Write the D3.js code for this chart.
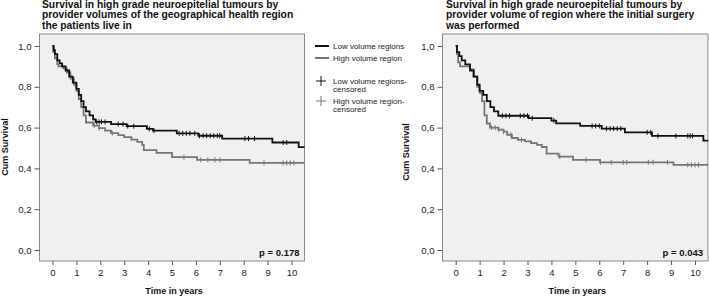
<!DOCTYPE html>
<html lang="en">
<head>
  <meta charset="UTF-8">
  <title>Survival by provider volume</title>
  <script src="https://cdn.jsdelivr.net/npm/d3@7"></script>
  <style>
    body { margin: 0; background: #fff; }
    svg { display: block; font-family: "Liberation Sans", Arial, sans-serif; }
    .title { font-size: 10.3px; font-weight: bold; fill: #111; }
    .axis text { font-size: 9.5px; fill: #222; }
    .axis path { display: none; }
    .axis line { stroke: #555; }
    .axlabel { font-size: 9px; font-weight: bold; fill: #111; }
    .pval { font-size: 9.5px; font-weight: bold; fill: #111; }
    .legend text { font-size: 8px; fill: #222; }
  </style>
</head>
<body>
<script>
  // tick labels
  const yearTicks = [0, 1, 2, 3, 4, 5, 6, 7, 8, 9, 10];
  const survTicks = [0, 0.2, 0.4, 0.6, 0.8, 1.0];

  const leftTitle = ["Survival in high grade neuroepitelial tumours by",
                     "provider volumes of the geographical health region",
                     "the patients live in"];
  const rightTitle = ["Survival in high grade neuroepitelial tumours by",
                      "provider volume of region where the initial surgery",
                      "was performed"];
  const legendItems = ["Low volume regions", "High volume region"];
  const censorItems = [["Low volume regions-", "censored"], ["High volume region-", "censored"]];

  // left panel: steps [time, survival] after each drop
  const leftLow = [[0,1.0],[0.05,0.98],[0.1,0.96],[0.2,0.93],[0.3,0.915],[0.4,0.9],[0.55,0.88],[0.7,0.85],
    [0.85,0.82],[1.0,0.79],[1.1,0.76],[1.2,0.73],[1.3,0.70],[1.4,0.68],[1.55,0.66],[1.7,0.64],[1.8,0.628],
    [2.45,0.617],[3.1,0.607],[3.95,0.594],[4.2,0.585],[5.2,0.572],[6.1,0.56],[7.1,0.546],[9.2,0.527],[10.3,0.504]];
  const leftHigh = [[0,1.0],[0.03,0.97],[0.1,0.94],[0.2,0.91],[0.25,0.9],[0.45,0.89],[0.6,0.87],[0.75,0.84],
    [0.9,0.81],[1.0,0.78],[1.1,0.74],[1.2,0.70],[1.3,0.66],[1.4,0.625],[1.7,0.61],[1.95,0.597],[2.2,0.585],
    [2.45,0.573],[2.75,0.563],[3.0,0.553],[3.3,0.541],[3.55,0.53],[3.75,0.515],[3.82,0.49],[4.35,0.476],
    [5.0,0.455],[6.05,0.442],[8.25,0.427]];
  const leftLowCensor = [1.85, 1.95, 2.05, 2.2, 2.75, 2.95, 3.15, 3.4, 4.05, 4.25, 5.3, 5.45, 5.6, 5.75, 5.95,
    6.15, 6.3, 6.45, 6.6, 6.75, 6.9, 7.0, 8.05, 8.2, 8.45, 9.65, 9.8];
  const leftHighCensor = [1.75, 1.95, 2.5, 5.5, 6.2, 6.5, 6.8, 7.0, 8.85, 9.65, 9.8, 9.95, 10.1];

  // right panel
  const rightLow = [[0,1.0],[0.05,0.97],[0.15,0.95],[0.25,0.93],[0.4,0.91],[0.6,0.88],[0.75,0.85],[0.9,0.81],
    [1.0,0.78],[1.15,0.76],[1.3,0.73],[1.45,0.70],[1.6,0.68],[1.78,0.658],[3.05,0.646],[4.0,0.634],
    [4.2,0.621],[5.2,0.608],[6.1,0.595],[7.07,0.577],[8.2,0.559],[10.35,0.536]];
  const rightHigh = [[0,1.0],[0.05,0.96],[0.1,0.92],[0.18,0.9],[0.6,0.885],[0.75,0.85],[0.9,0.8],[1.0,0.77],
    [1.1,0.73],[1.2,0.66],[1.3,0.62],[1.43,0.60],[1.78,0.59],[2.0,0.58],[2.15,0.565],[2.35,0.549],[2.6,0.54],
    [2.9,0.532],[3.15,0.524],[3.4,0.515],[3.6,0.505],[3.8,0.472],[4.3,0.458],[4.9,0.442],[6.03,0.43],[9.1,0.417]];
  const rightLowCensor = [1.95, 2.1, 2.25, 2.7, 2.85, 3.0, 3.2, 4.1, 5.7, 5.85, 6.0, 6.3, 6.45, 6.6, 6.75, 6.9,
    8.0, 8.15, 8.45, 9.2, 9.7, 9.8, 9.9];
  const rightHighCensor = [1.5, 1.65, 1.8, 2.0, 2.3, 2.75, 4.35, 5.45, 6.05, 6.5, 7.0, 7.15, 8.05, 8.25, 8.85,
    9.7, 9.85, 10.0, 10.15];

  const W = 709, H = 297;
  const svg = d3.select("body").append("svg").attr("width", W).attr("height", H);

  function drawPanel(o) {
    const g = svg.append("g");
    const x = d3.scaleLinear().domain([0, 10]).range([o.x0, o.x10]);
    const y = d3.scaleLinear().domain([0, 1]).range([250, 46]);
    const xmax = x.invert(o.boxR);

    g.append("rect")
      .attr("x", o.boxL).attr("y", 34)
      .attr("width", o.boxR - o.boxL).attr("height", 227)
      .attr("fill", "#f0f0f0").attr("stroke", "#8a8a8a");

    g.append("g").attr("class", "axis")
      .attr("transform", `translate(${o.boxL},0)`)
      .call(d3.axisLeft(y).tickValues(survTicks).tickSize(5).tickPadding(3)
        .tickFormat(d => d3.format(".1f")(d).replace(".", ",")));

    g.append("g").attr("class", "axis")
      .attr("transform", "translate(0,261)")
      .call(d3.axisBottom(x).tickValues(yearTicks).tickSize(4).tickPadding(4));

    g.selectAll(".title-line").data(o.title).enter().append("text")
      .attr("class", "title")
      .attr("x", o.titleX).attr("y", (d, i) => 8 + i * 10.4)
      .text(d => d);

    g.append("text").attr("class", "axlabel")
      .attr("x", (o.boxL + o.boxR) / 2 + 2).attr("y", 294)
      .attr("text-anchor", "middle").text("Time in years");

    g.append("text").attr("class", "axlabel")
      .attr("transform", `translate(${o.ylabX},${o.ylabY}) rotate(-90)`)
      .attr("text-anchor", "middle").text("Cum Survival");

    g.append("text").attr("class", "pval")
      .attr("x", o.boxR - 5).attr("y", 256)
      .attr("text-anchor", "end").text(o.p);

    const line = d3.line().x(d => x(d[0])).y(d => y(d[1])).curve(d3.curveStepAfter);
    const series = [
      { steps: o.high, censor: o.highCensor, color: "#767676" },
      { steps: o.low, censor: o.lowCensor, color: "#111" }
    ];
    const bis = d3.bisector(d => d[0]).right;
    series.forEach(s => {
      const pts = s.steps.concat([[xmax, s.steps[s.steps.length - 1][1]]]);
      g.append("path").datum(pts)
        .attr("fill", "none").attr("stroke", s.color).attr("stroke-width", 1.8)
        .attr("d", line);
      g.selectAll(null).data(s.censor).enter().append("line")
        .attr("x1", d => x(d)).attr("x2", d => x(d))
        .attr("y1", d => y(s.steps[bis(s.steps, d) - 1][1]) - 2.5)
        .attr("y2", d => y(s.steps[bis(s.steps, d) - 1][1]) + 2.5)
        .attr("stroke", s.color).attr("stroke-width", 1);
    });
  }

  drawPanel({ x0: 52.5, x10: 291.5, boxL: 39.5, boxR: 304.5, title: leftTitle, titleX: 42,
    ylabX: 8, ylabY: 147, p: "p = 0.178",
    low: leftLow, high: leftHigh, lowCensor: leftLowCensor, highCensor: leftHighCensor });

  drawPanel({ x0: 455.7, x10: 695, boxL: 442.5, boxR: 708, title: rightTitle, titleX: 446,
    ylabX: 409, ylabY: 152, p: "p = 0.043",
    low: rightLow, high: rightHigh, lowCensor: rightLowCensor, highCensor: rightHighCensor });

  // legend
  const lg = svg.append("g").attr("class", "legend");
  const legColors = ["#111", "#767676"];
  lg.selectAll(".lline").data(legendItems).enter().append("line")
    .attr("x1", 315).attr("x2", 329)
    .attr("y1", (d, i) => 46 + i * 12).attr("y2", (d, i) => 46 + i * 12)
    .attr("stroke", (d, i) => legColors[i]).attr("stroke-width", 2);
  lg.selectAll(".ltext").data(legendItems).enter().append("text")
    .attr("x", 333).attr("y", (d, i) => 49 + i * 12).text(d => d);

  censorItems.forEach((item, i) => {
    const cy = 81 + i * 20;
    lg.append("line").attr("x1", 316).attr("x2", 326).attr("y1", cy).attr("y2", cy)
      .attr("stroke", legColors[i]).attr("stroke-width", 1);
    lg.append("line").attr("x1", 321).attr("x2", 321).attr("y1", cy - 5).attr("y2", cy + 5)
      .attr("stroke", legColors[i]).attr("stroke-width", 1);
    item.forEach((t, j) => {
      lg.append("text").attr("x", 333).attr("y", cy + 3 + j * 8).text(t);
    });
  });
</script>
</body>
</html>
